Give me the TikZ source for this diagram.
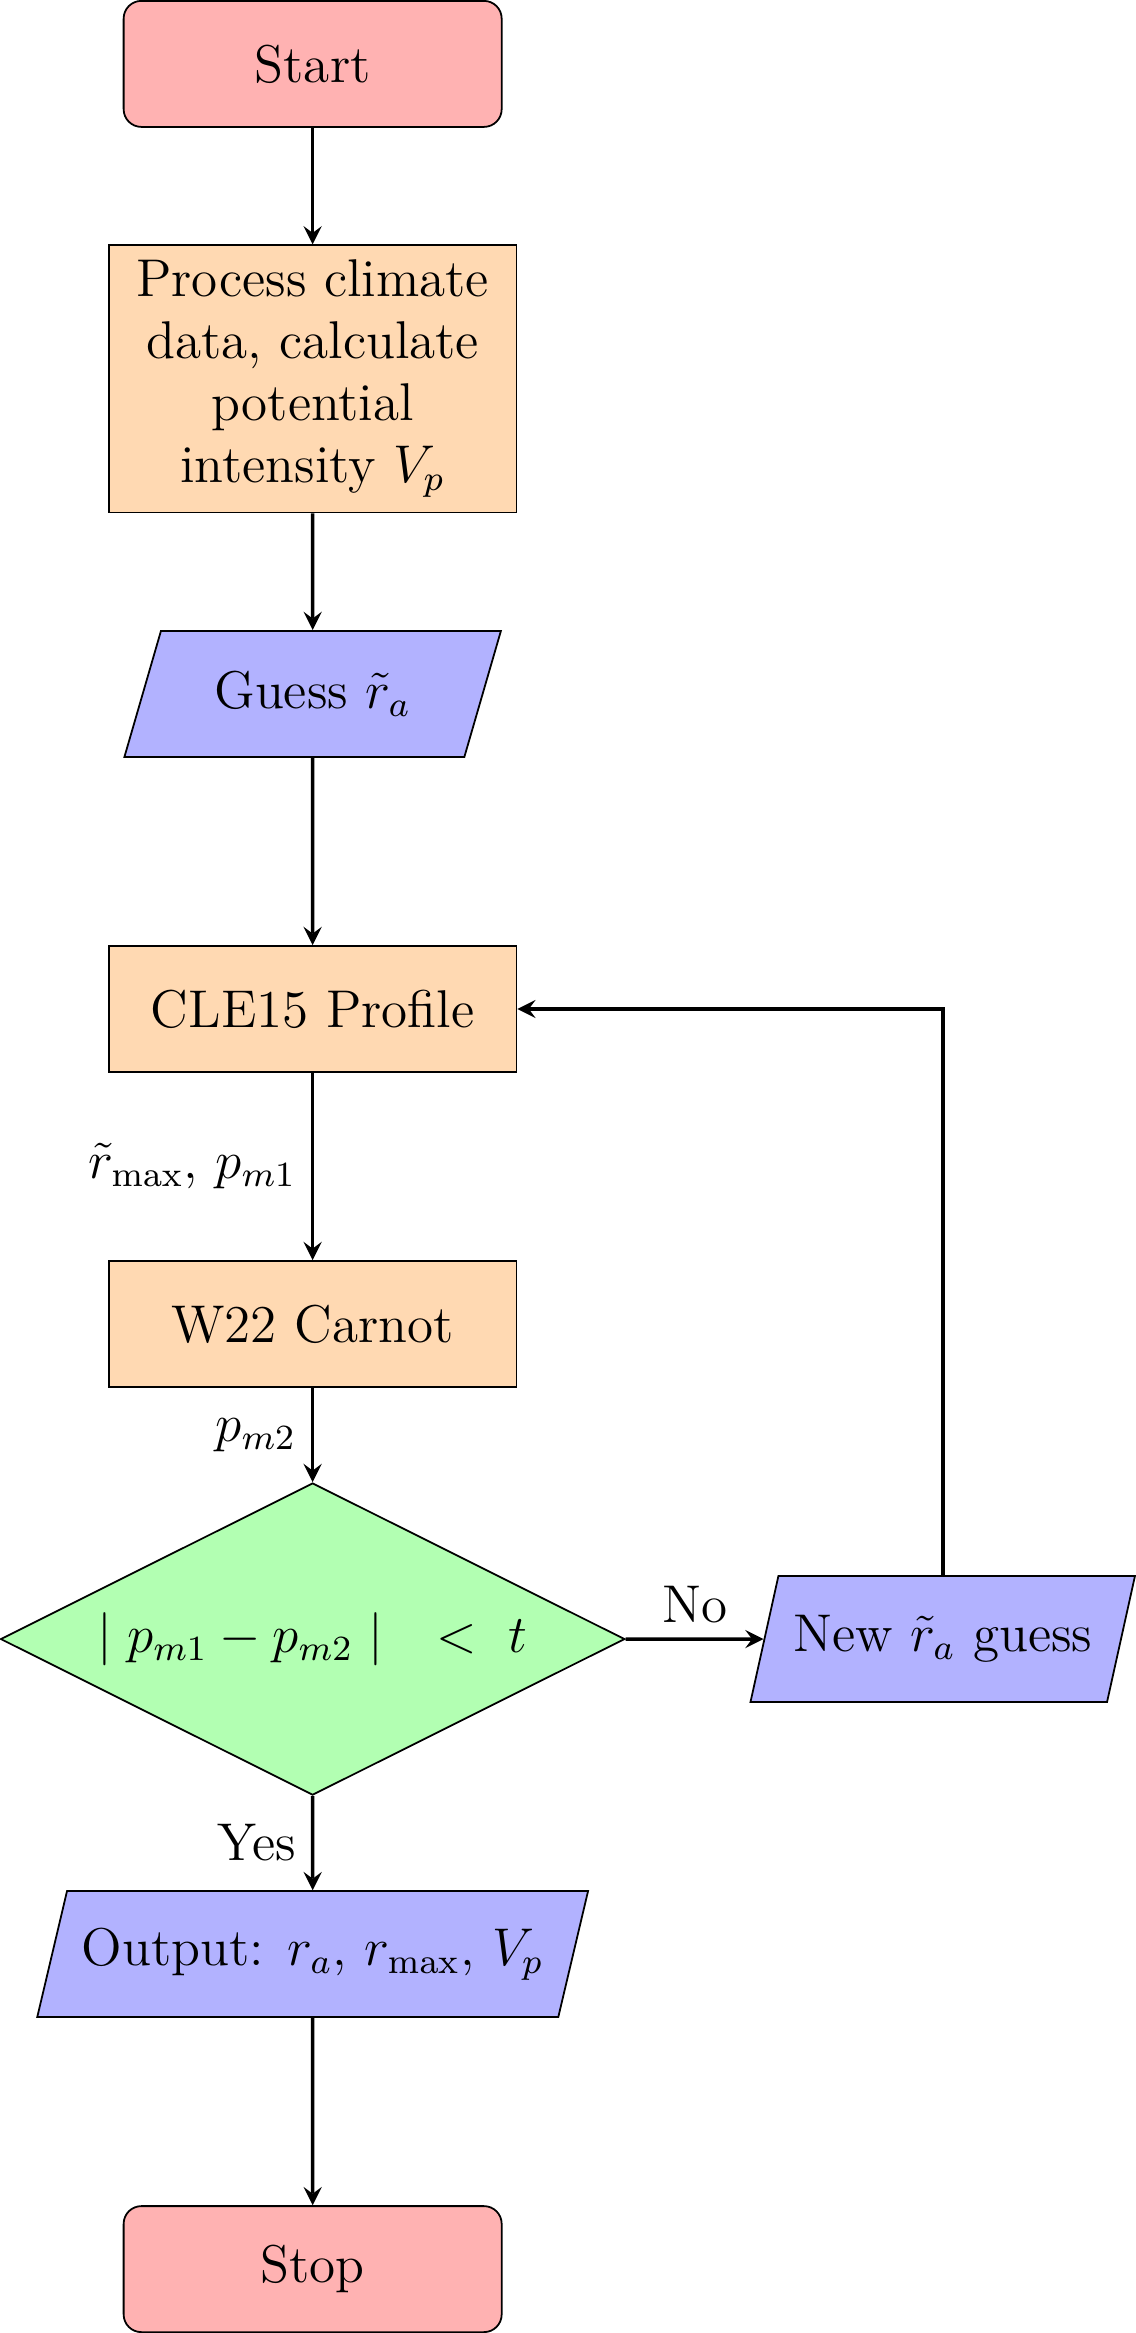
\documentclass[tikz,border=0pt]{standalone}
\usepackage{amsmath,amssymb}
\usepackage{tikz}
\usetikzlibrary{shapes.geometric,arrows.meta}

\tikzset{
  startstop/.style={rectangle, rounded corners, minimum width=3cm, minimum height=1cm, text centered, draw=black, fill=red!30, font=\large},
  process/.style={rectangle, minimum width=3cm, minimum height=1cm, text centered, text width=3cm, draw=black, fill=orange!30, font=\large},
  io/.style={trapezium, trapezium left angle=70, trapezium right angle=110, trapezium stretches=true, minimum width=3cm, minimum height=1cm, text centered, draw=black, fill=blue!30, font=\large},
  decision/.style={diamond, aspect=2, minimum width=3cm, minimum height=1cm, text centered, draw=black, fill=green!30, font=\large},
  arrow/.style={thick, ->, >=stealth},
  edgelabel/.style={font=\large}
}

\begin{document}
\begin{tikzpicture}
  \node[startstop] (start) at (0,0) {Start};
  \node[process] (proc) at (0,-2.5) {Process climate data, calculate potential intensity $V_p$};
  \node[io] (guess) at (0,-5) {Guess $\tilde{r}_a$};
  \node[process] (cle) at (0,-7.5) {CLE15 Profile};
  \node[process] (carnot) at (0,-10) {W22 Carnot};
  \node[decision] (dec) at (0,-12.5) {$\mid p_{m1}-p_{m2}\mid\quad<\ t$};
  \node[io] (newguess) at (5,-12.5) {New $\tilde{r}_a$ guess};
  \node[io] (out) at (0,-15) {Output: $r_a$, $r_{\max}$, $V_p$};
  \node[startstop] (stop) at (0,-17.5) {Stop};

  \draw[arrow] (start) -- (proc);
  \draw[arrow] (proc) -- (guess);
  \draw[arrow] (guess) -- (cle);
  \draw[arrow] (cle) -- node[left, edgelabel] {$\tilde{r}_{\max}$, $p_{m1}$} (carnot);
  \draw[arrow] (carnot) -- node[left, edgelabel] {$p_{m2}$} (dec);
  \draw[arrow] (dec) -- node[above, edgelabel] {No} (newguess);
  \draw[arrow] (dec) -- node[left, edgelabel] {Yes} (out);
  \draw[arrow] (newguess) |- (cle);
  \draw[arrow] (out) -- (stop);
\end{tikzpicture}
\end{document}
